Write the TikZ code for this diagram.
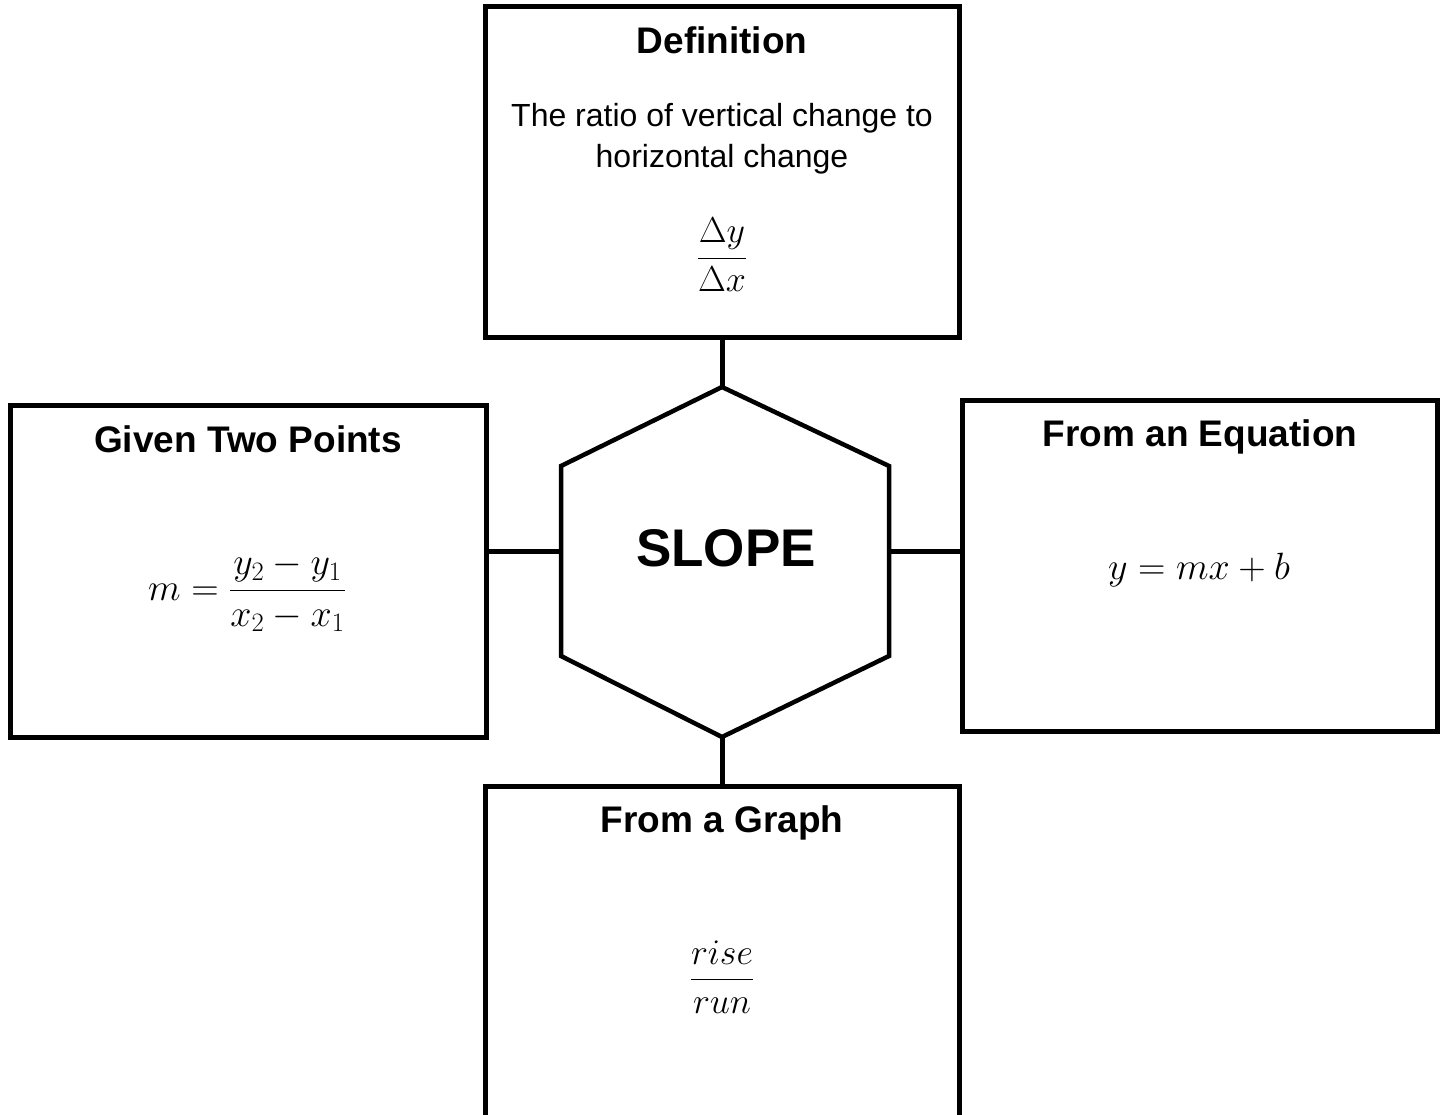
\RequirePackage{fix-cm}
\documentclass[tikz,border=0pt]{standalone}
\usepackage[no-math]{fontspec}
\setmainfont{Liberation Sans}
\begin{document}
\begin{tikzpicture}[x=1pt,y=-1pt,
  box/.style={draw=black,line width=5pt,rectangle,inner sep=0pt},
  conn/.style={draw=black,line width=5pt},
  head/.style={font=\fontsize{37}{42}\selectfont\bfseries},
  body/.style={font=\fontsize{32}{41}\selectfont,align=center},
  mth/.style={font=\fontsize{38}{44}\selectfont},
  fr/.style={font=\fontsize{36}{42}\selectfont},
  big/.style={font=\fontsize{53}{60}\selectfont\bfseries}]
\useasboundingbox (0,0) rectangle (1442,1115);
\fill[white] (0,0) rectangle (1442,1115);
% boxes
\node[box,minimum width=474pt,minimum height=330pt] (def) at (722,172) {};
\node[box,minimum width=476pt,minimum height=332pt] (two) at (248,571) {};
\node[box,minimum width=475pt,minimum height=331pt] (eq) at (1199.5,565.5) {};
\node[box,minimum width=474pt,minimum height=331pt] (gr) at (722,951.5) {};
% hexagon
\coordinate (ht) at (722,387);
\coordinate (hur) at (889,466);
\coordinate (hlr) at (889,656);
\coordinate (hb) at (722,737);
\coordinate (hll) at (561,656);
\coordinate (hul) at (561,466);
\coordinate (hl) at (561,551);
\coordinate (hr) at (889,551);
\draw[line width=4.5pt,line join=miter] (ht) -- (hur) -- (hlr) -- (hb) -- (hll) -- (hul) -- cycle;
\node[big] (slope) at (726,548) {SLOPE};
% connectors
\draw[conn] (def.south) -- (ht);
\draw[conn] (hb) -- (gr.north);
\draw[conn] (hl) -- (two.east |- hl);
\draw[conn] (hr) -- (eq.west |- hr);
% texts
\node[head] (defh) at (722,40) {Definition};
\node[body] (deft) at (722,139) {The ratio of vertical change to\\horizontal change};
\node[fr] (deff) at (722,255) {$\displaystyle\frac{\Delta y}{\Delta x}$};
\node[head] (twoh) at (248,439) {Given Two Points};
\node[mth] (twof) at (247,592) {$\displaystyle m=\frac{y_2-y_1}{x_2-x_1}$};
\node[head] (eqh) at (1200,437) {From an Equation};
\node[mth] (eqf) at (1199,570) {$y=mx+b$};
\node[head] (grh) at (722,823) {From a Graph};
\node[fr] (grf) at (722,977) {$\displaystyle\frac{rise}{run}$};
\end{tikzpicture}
\end{document}
